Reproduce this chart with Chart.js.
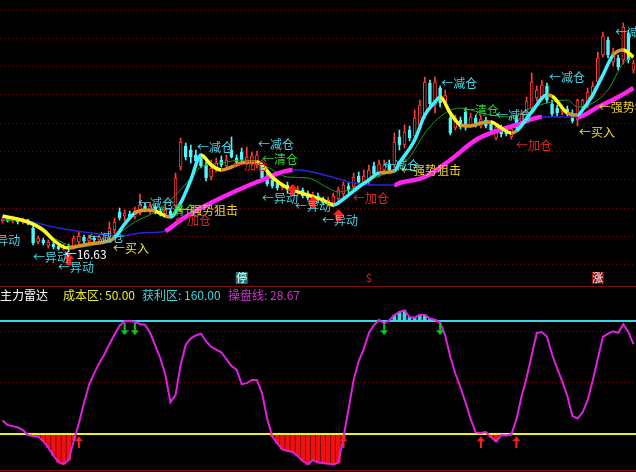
<!DOCTYPE html>
<html>
<head>
<meta charset="utf-8">
<script src="https://cdn.jsdelivr.net/npm/chart.js@4.4.1/dist/chart.umd.min.js"></script>
<style>
html, body { margin: 0; padding: 0; background: #000; }
#wrap { position: relative; width: 636px; height: 472px; overflow: hidden; background: #000; font-family: "Noto Sans CJK SC", sans-serif; }
#top { position: absolute; left: 0; top: 0; }
#bottom { position: absolute; left: 0; top: 287px; }
.sep { position: absolute; left: 0; width: 636px; height: 1px; background: #7a0c0c; }
.head { position: absolute; top: 287px; font-size: 12px; line-height: 15px; white-space: pre; }
</style>
</head>
<body>
<div id="wrap">
  <canvas id="top" width="636" height="286"></canvas>
  <div class="sep" style="top:286px"></div>
  <canvas id="bottom" width="636" height="183"></canvas>
  <div class="sep" style="top:470px"></div>
  <span class="head" style="left:0;color:#ffffff">主力雷达</span>
  <span class="head" style="left:63px;color:#e8e830">成本区: 50.00</span>
  <span class="head" style="left:142px;color:#38d4e0">获利区: 160.00</span>
  <span class="head" style="left:228px;color:#d030d0">操盘线: 28.67</span>
</div>
<script>
// 主图 K线数据
var opens = [19.7, 19.9, 19.7, 19.9, 19.6, 19.8, 19.0, 17.6, 17.8, 17.2,
    17.4, 17.2, 17.0, 17.2, 17.1, 17.6, 18.1, 17.7, 18.0, 17.8,
    17.8, 18.1, 18.8, 20.6, 20.2, 20.4, 20.1, 20.5, 21.2, 20.7,
    21.1, 20.7, 20.4, 20.7, 21.2, 25.1, 27.2, 26.8, 26.3, 26.0,
    25.3, 24.1, 24.8, 25.8, 25.2, 26.8, 26.0, 26.6, 25.5, 25.4,
    25.3, 25.2, 24.2, 23.8, 23.5, 23.0, 23.3, 22.9, 22.5, 22.8,
    22.4, 22.0, 22.2, 21.9, 21.4, 21.5, 21.9, 22.4, 23.2, 23.1,
    24.2, 23.5, 23.7, 25.2, 24.4, 24.8, 25.4, 25.3, 28.1, 27.3,
    28.8, 28.2, 29.3, 30.3, 33.5, 31.3, 33.0, 31.6, 30.0, 29.0,
    29.8, 30.6, 29.3, 30.0, 29.2, 29.8, 29.4, 28.0, 29.0, 28.8,
    28.1, 30.0, 29.6, 30.5, 31.0, 32.0, 32.1, 33.2, 31.4, 31.0,
    30.6, 30.9, 30.5, 29.8, 31.0, 31.2, 32.3, 33.6, 36.3, 37.8,
    35.6, 36.0, 35.8, 38.5, 34.8];
var highs = [20.1, 20.1, 20.2, 20.0, 20.0, 19.9, 19.2, 18.2, 18.0, 17.8,
    17.6, 17.4, 17.4, 17.4, 18.2, 18.6, 18.3, 18.3, 18.2, 18.3,
    18.5, 19.6, 20.0, 21.0, 20.8, 20.7, 21.1, 22.4, 21.5, 21.6,
    21.3, 20.9, 21.1, 20.9, 24.5, 28.0, 27.5, 27.3, 26.8, 26.3,
    25.6, 25.8, 26.0, 26.2, 26.3, 28.1, 26.3, 27.0, 27.1, 26.6,
    26.7, 25.5, 24.6, 24.0, 23.8, 23.5, 23.6, 23.2, 23.2, 23.0,
    22.7, 22.6, 22.5, 22.1, 22.1, 22.5, 23.1, 23.6, 23.5, 24.5,
    24.6, 24.8, 25.3, 25.6, 25.8, 25.8, 25.8, 28.5, 28.8, 29.3,
    29.2, 30.8, 31.8, 34.1, 33.8, 34.1, 33.2, 32.8, 30.3, 30.3,
    30.1, 31.0, 30.5, 30.3, 30.3, 30.1, 29.7, 29.4, 29.3, 29.1,
    29.2, 30.3, 30.8, 32.1, 34.5, 33.2, 33.8, 33.5, 31.8, 31.3,
    31.3, 31.2, 30.8, 31.9, 31.9, 33.0, 33.6, 36.6, 38.6, 38.1,
    37.0, 36.3, 39.5, 38.8, 35.8];
var lows = [19.5, 19.6, 19.5, 19.4, 19.4, 19.3, 17.3, 17.4, 17.3, 17.0,
    16.9, 16.8, 16.8, 16.63, 16.9, 17.4, 17.5, 17.5, 17.6, 17.6,
    17.6, 17.9, 18.4, 19.8, 19.7, 19.9, 19.9, 20.3, 20.6, 20.4,
    20.4, 20.2, 20.1, 20.0, 21.0, 24.8, 25.8, 25.5, 25.3, 25.0,
    23.7, 23.8, 24.6, 25.1, 25.0, 26.0, 25.3, 25.5, 25.3, 25.2,
    25.0, 23.8, 23.2, 23.0, 22.8, 22.8, 22.5, 22.3, 22.2, 22.0,
    21.8, 21.7, 21.5, 21.3, 21.2, 21.1, 21.5, 22.0, 22.5, 22.9,
    23.4, 23.3, 23.3, 24.2, 24.1, 24.6, 24.6, 25.0, 26.8, 27.0,
    27.7, 28.0, 28.8, 30.0, 31.0, 30.5, 31.1, 31.2, 28.3, 28.8,
    28.9, 28.8, 29.1, 29.1, 29.0, 29.0, 28.6, 27.8, 28.1, 28.2,
    27.9, 28.8, 29.3, 30.3, 30.7, 31.7, 31.9, 31.5, 30.2, 30.2,
    30.3, 30.2, 29.5, 29.2, 30.7, 31.0, 32.0, 33.3, 36.1, 36.0,
    35.2, 34.8, 35.4, 35.5, 34.5];
var closes = [19.9, 19.7, 19.9, 19.6, 19.8, 19.5, 17.5, 18.0, 17.5, 17.6,
    17.1, 16.9, 17.2, 16.9, 18.0, 18.2, 17.7, 18.0, 17.8, 18.1,
    18.3, 19.0, 19.6, 20.0, 20.5, 20.1, 20.7, 21.3, 20.8, 21.2,
    20.6, 20.4, 20.8, 20.2, 24.0, 27.6, 26.1, 26.1, 25.7, 25.2,
    24.0, 25.0, 25.5, 25.3, 25.8, 26.1, 25.6, 25.8, 26.1, 26.2,
    26.3, 24.0, 23.4, 23.2, 23.0, 23.3, 22.8, 22.5, 22.9, 22.2,
    22.0, 22.3, 21.8, 21.5, 21.8, 22.2, 22.8, 23.3, 22.8, 24.1,
    23.6, 24.2, 24.8, 24.4, 25.4, 25.3, 24.8, 27.6, 27.3, 28.6,
    28.0, 30.0, 31.3, 33.6, 31.4, 33.6, 31.5, 32.3, 28.5, 30.0,
    29.1, 29.1, 30.1, 29.3, 29.9, 29.2, 28.8, 29.1, 28.4, 28.4,
    28.9, 29.0, 30.4, 31.7, 33.6, 32.8, 33.3, 31.8, 30.4, 30.5,
    31.0, 30.4, 29.7, 31.8, 31.8, 32.6, 33.2, 36.0, 38.2, 36.3,
    36.6, 35.1, 39.1, 35.8, 35.5];

// 均线 [K线序号, 价格]
var trendLine = [[0, 20.2], [5, 19.6], [8, 18.8], [10, 17.8], [12, 17.1], [13, 17.0], [15, 17.2],
    [17, 17.4], [20, 17.6], [22, 18.0], [24, 19.4], [26, 20.5], [28, 20.8], [30, 20.7],
    [32, 20.2], [33, 20.1], [35, 21.5], [37, 23.8], [39, 26.3], [41, 25.3], [43, 24.8],
    [45, 25.1], [47, 25.5], [50, 25.6], [51, 25.3], [53, 24.1], [55, 23.3], [57, 22.8],
    [60, 22.3], [63, 21.8], [65, 21.3], [67, 21.9], [70, 23.1], [72, 23.8], [74, 24.5],
    [77, 24.7], [78, 25.5], [81, 27.8], [83, 30.3], [85, 31.6], [86, 32.1], [88, 30.5],
    [90, 29.3], [92, 29.2], [94, 29.5], [96, 29.6], [98, 29.0], [100, 28.5], [101, 28.7],
    [104, 30.6], [107, 32.3], [108, 32.2], [111, 30.5], [113, 30.3], [114, 30.8],
    [116, 32.3], [118, 34.3], [120, 36.3], [122, 36.8], [124, 36.1]];
var fastLine = [[0, 19.8], [5, 19.6], [9, 18.3], [13, 17.3], [15, 17.1], [18, 17.3], [21, 17.8],
    [26, 19.6], [30, 20.6], [33, 21.8], [36, 23.4], [39, 25.1], [43, 25.5], [47, 25.8],
    [52, 25.1], [56, 24.1], [60, 24.0], [64, 23.0], [66, 22.6], [68, 22.8], [73, 24.0],
    [76, 24.6], [80, 26.1], [83, 28.5], [87, 30.5], [90, 31.0], [92, 30.8], [96, 30.3],
    [100, 30.1], [103, 30.8], [107, 31.5], [111, 31.8], [113, 31.1], [116, 31.5],
    [119, 32.8], [122, 35.5], [124, 36.1]];
var slowLine = [[0, 20.0], [5, 19.7], [11, 19.0], [19, 18.4], [23, 18.2], [27, 18.5], [31, 18.6],
    [32, 18.7], [35, 19.8], [39, 21.0], [45, 22.5], [51, 23.8], [57, 24.8], [58, 24.8],
    [64, 24.2], [69, 23.5], [73, 23.3], [77, 23.3], [78, 23.5], [83, 24.1], [88, 25.8],
    [93, 27.8], [96, 28.5], [101, 29.3], [106, 30.1], [110, 30.1], [113, 30.1],
    [117, 31.1], [121, 32.1], [124, 33.0]];

// 信号与标注
var buyArrows = [[13, 15.9], [57, 22.8], [61, 21.6], [66, 20.3]];
var notes = [[38.2, 27.1, "减仓"], [45.1, 25.3, "加仓"], [50.2, 27.4, "减仓"], [51.0, 25.9, "清仓"],
    [26.6, 21.5, "减仓"], [31.0, 20.8, "清仓"], [34.5, 20.8, "强势狙击"], [33.9, 19.8, "加仓"],
    [-3.6, 17.8, "异动"], [16.8, 18.1, "减仓"], [21.7, 17.0, "买入"], [6.0, 16.1, "异动"],
    [10.9, 15.1, "异动"], [51.0, 22.0, "异动"], [57.5, 21.2, "异动"], [62.8, 19.8, "异动"],
    [68.9, 22.0, "加仓"], [74.8, 25.3, "减仓"], [78.3, 24.8, "强势狙击"], [86.2, 33.5, "减仓"],
    [90.5, 30.8, "清仓"], [97.0, 30.3, "减仓"], [100.9, 27.3, "加仓"], [107.4, 34.1, "减仓"],
    [113.3, 28.6, "买入"], [117.2, 31.1, "强势狙击"], [120.4, 38.6, "减仓"]];
var flagMarks = [[47, "停"], [72, "$"], [117, "涨"]];

// 副图 主力雷达
var radarLine = [63.1, 58.7, 57.7, 56.4, 53.9, 49.0, 48.1, 47.4, 43.2, 36.8,
    29.2, 22.6, 20.8, 24.7, 43.8, 60.3, 80.2, 97.9, 109.0, 118.8,
    127.5, 137.4, 146.9, 155.4, 159.8, 160.0, 159.2, 157.1, 156.4, 148.5,
    136.3, 124.0, 107.7, 81.0, 88.0, 117.0, 137.0, 143.1, 146.0, 147.6,
    140.3, 134.9, 132.2, 129.6, 123.0, 116.1, 112.6, 98.6, 99.5, 102.7,
    102.6, 89.8, 65.2, 47.8, 40.8, 35.1, 33.5, 32.6, 28.6, 23.9,
    20.5, 24.7, 22.3, 21.8, 21.0, 20.3, 22.2, 46.4, 74.1, 102.5,
    121.1, 132.6, 148.3, 156.1, 160.9, 158.0, 160.6, 165.7, 168.9, 170.4,
    163.9, 163.2, 166.0, 165.9, 162.4, 161.2, 158.5, 145.9, 125.3, 108.7,
    95.3, 80.8, 64.5, 51.6, 51.0, 51.9, 47.0, 42.7, 49.0, 48.5,
    49.5, 64.1, 86.4, 104.7, 126.7, 148.4, 149.2, 144.6, 127.6, 113.8,
    101.3, 87.0, 67.5, 65.2, 71.1, 83.1, 102.2, 123.5, 144.6, 147.8,
    150.0, 148.6, 156.9, 149.3, 137.4];
var costLevel = 50;
var profitLevel = 160;
var upSignals = [15, 67, 94, 101];
var downSignals = [24, 26, 75, 86];

Chart.defaults.font.family = '"Noto Sans CJK SC", sans-serif';
Chart.defaults.animation = false;

var xMin = -0.5;
var xMax = opens.length - 0.5;
var isUp = opens.map(function (o, i) { return closes[i] >= o; });

function pairsToPoints(list) {
    return list.map(function (p) { return { x: p[0], y: p[1] }; });
}

function arrowImage(color, w, h, head, shaft, down) {
    var c = document.createElement("canvas");
    c.width = w;
    c.height = h;
    var g = c.getContext("2d");
    if (down) {
        g.translate(0, h);
        g.scale(1, -1);
    }
    g.fillStyle = color;
    g.beginPath();
    g.moveTo(w / 2, 0);
    g.lineTo(w, head);
    g.lineTo((w + shaft) / 2, head);
    g.lineTo((w + shaft) / 2, h);
    g.lineTo((w - shaft) / 2, h);
    g.lineTo((w - shaft) / 2, head);
    g.lineTo(0, head);
    g.closePath();
    g.fill();
    return c;
}

function slope(ctx) {
    return (ctx.p1.parsed.y - ctx.p0.parsed.y) / (ctx.p1.parsed.x - ctx.p0.parsed.x);
}

var noteColors = {
    "减仓": "#45d6e6", "清仓": "#2ed02e", "加仓": "#e02626", "异动": "#45d6e6",
    "买入": "#f0e030", "强势狙击": "#f2d424"
};

var notesPlugin = {
    id: "notes",
    afterDatasetsDraw: function (chart) {
        var ctx = chart.ctx;
        var xs = chart.scales.x, ys = chart.scales.y;
        ctx.save();
        ctx.font = '12px "Noto Sans CJK SC"';
        ctx.textBaseline = "middle";
        ctx.textAlign = "left";
        notes.forEach(function (n) {
            ctx.fillStyle = noteColors[n[2]];
            ctx.fillText("←" + n[2], xs.getPixelForValue(n[0]), ys.getPixelForValue(n[1]));
        });
        // 最低价
        var lo = Math.min.apply(null, lows);
        var loIdx = lows.indexOf(lo);
        ctx.fillStyle = "#ffffff";
        ctx.fillText("←" + lo.toFixed(2), xs.getPixelForValue(loIdx) - 4, ys.getPixelForValue(lo) + 3);
        // 底部标记
        ctx.font = '11px "Noto Sans CJK SC"';
        ctx.textAlign = "center";
        var yb = chart.chartArea.bottom - 8;
        flagMarks.forEach(function (f) {
            var x = xs.getPixelForValue(f[0]);
            if (f[1] === "$") {
                ctx.fillStyle = "#e02020";
                ctx.fillText(f[1], x, yb);
                return;
            }
            ctx.fillStyle = f[1] === "停" ? "#1f7a7a" : "#8a1414";
            ctx.fillRect(x - 6, yb - 6, 12, 12);
            ctx.fillStyle = "#ffffff";
            ctx.fillText(f[1], x, yb);
        });
        ctx.restore();
    }
};

var hiddenX = { type: "linear", min: xMin, max: xMax, offset: false, display: false };

function gridY(min, max, ticks) {
    return {
        min: min, max: max,
        afterBuildTicks: function (ax) { ax.ticks = ticks.map(function (v) { return { value: v }; }); },
        afterFit: function (ax) { ax.width = 0; },
        ticks: { display: false },
        grid: { color: "#6a0a0a", lineWidth: 1, drawTicks: false },
        border: { display: false, dash: [1, 3] }
    };
}

var arrowPoint = { pointRadius: 0.1, pointBorderWidth: 0, pointHoverRadius: 0, clip: false };

// 主图
var priceGrid = [];
for (var k = 0; k < 10; k++) priceGrid.push(40.8 - 2.83 * k);

new Chart(document.getElementById("top"), {
    type: "bar",
    data: {
        datasets: [
            {
                label: "影线",
                data: opens.map(function (o, i) { return { x: i, y: [lows[i], highs[i]] }; }),
                backgroundColor: isUp.map(function (u) { return u ? "#ff3c3c" : "#54f4fc"; }),
                barThickness: 1,
                grouped: false,
                order: 10
            },
            {
                label: "实体",
                data: opens.map(function (o, i) { return { x: i, y: [o, closes[i]] }; }),
                backgroundColor: isUp.map(function (u) { return u ? "#000000" : "#54f4fc"; }),
                borderColor: isUp.map(function (u) { return u ? "#ff3c3c" : "#54f4fc"; }),
                borderWidth: 1,
                borderSkipped: false,
                minBarLength: 1,
                barThickness: 3,
                grouped: false,
                order: 9
            },
            {
                type: "line",
                label: "短线",
                data: pairsToPoints(fastLine),
                borderColor: "#1f9a1f",
                borderWidth: 1,
                pointRadius: 0,
                cubicInterpolationMode: "monotone",
                order: 8
            },
            {
                type: "line",
                label: "长线",
                data: pairsToPoints(slowLine),
                pointRadius: 0,
                cubicInterpolationMode: "monotone",
                borderColor: "#2626e0",
                segment: {
                    borderColor: function (ctx) { return slope(ctx) > 0.1 ? "#ff22f0" : "#2626e0"; },
                    borderWidth: function (ctx) { return slope(ctx) > 0.1 ? 4.5 : 1.5; }
                },
                order: 7
            },
            {
                type: "line",
                label: "趋势线",
                data: pairsToPoints(trendLine),
                pointRadius: 0,
                borderWidth: 3.5,
                cubicInterpolationMode: "monotone",
                borderColor: "#ffff20",
                segment: {
                    borderColor: function (ctx) {
                        var s = slope(ctx);
                        if (s > 0.25) return "#3ff0ff";
                        if (s < -0.1) return "#ffff20";
                        return "#d8962a";
                    }
                },
                order: 6
            },
            Object.assign({
                type: "scatter",
                label: "买点",
                data: pairsToPoints(buyArrows),
                pointStyle: arrowImage("#ff2020", 11, 12, 6, 5, false),
                order: 1
            }, arrowPoint)
        ]
    },
    options: {
        responsive: false,
        maintainAspectRatio: false,
        devicePixelRatio: 1,
        events: [],
        layout: { padding: 0, autoPadding: false },
        plugins: { legend: { display: false }, tooltip: { enabled: false } },
        scales: { x: hiddenX, y: gridY(13.2, 41.8, priceGrid) }
    },
    plugins: [notesPlugin]
});

// 副图
function levelLine(v) {
    return [{ x: xMin, y: v }, { x: xMax, y: v }];
}
var lowBars = [], highBars = [];
radarLine.forEach(function (v, i) {
    if (v < costLevel) lowBars.push({ x: i, y: [costLevel, v] });
    if (v > profitLevel) highBars.push({ x: i, y: [profitLevel, v] });
});

new Chart(document.getElementById("bottom"), {
    type: "bar",
    data: {
        datasets: [
            { label: "低位", data: lowBars, backgroundColor: "#f01010", barThickness: 4, grouped: false, order: 6 },
            { label: "高位", data: highBars, backgroundColor: "#38d8e8", barThickness: 3, grouped: false, order: 5 },
            { type: "line", label: "成本区", data: levelLine(costLevel), borderColor: "#f0f020", borderWidth: 2, pointRadius: 0, order: 4 },
            { type: "line", label: "获利区", data: levelLine(profitLevel), borderColor: "#38d8e8", borderWidth: 2, pointRadius: 0, order: 4 },
            {
                type: "line",
                label: "操盘线",
                data: radarLine.map(function (v, i) { return { x: i, y: v }; }),
                borderColor: "#e020e0",
                borderWidth: 2,
                pointRadius: 0,
                order: 2
            },
            Object.assign({
                type: "scatter",
                label: "上穿",
                data: upSignals.map(function (i) { return { x: i, y: costLevel - 8 }; }),
                pointStyle: arrowImage("#ff2020", 8, 12, 5, 2, false),
                order: 1
            }, arrowPoint),
            Object.assign({
                type: "scatter",
                label: "下穿",
                data: downSignals.map(function (i) { return { x: i, y: profitLevel - 8 }; }),
                pointStyle: arrowImage("#18c018", 8, 12, 5, 2, true),
                order: 1
            }, arrowPoint)
        ]
    },
    options: {
        responsive: false,
        maintainAspectRatio: false,
        devicePixelRatio: 1,
        events: [],
        layout: { padding: 0, autoPadding: false },
        plugins: { legend: { display: false }, tooltip: { enabled: false } },
        scales: { x: hiddenX, y: gridY(15, 193.1, [100, 150]) }
    }
});
</script>
</body>
</html>
